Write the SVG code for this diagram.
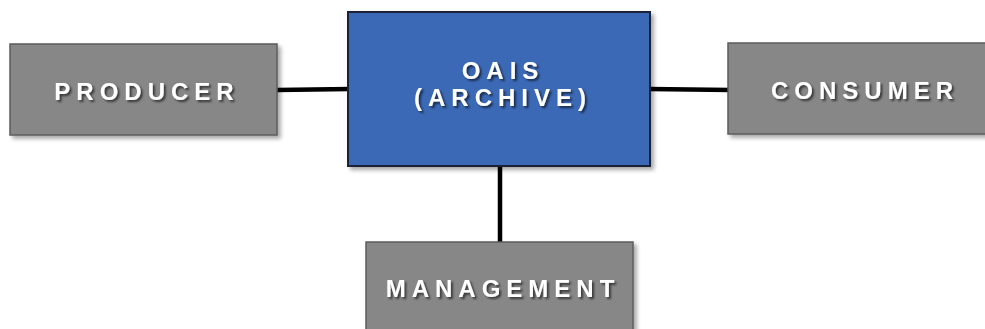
<svg xmlns="http://www.w3.org/2000/svg" width="985" height="329" viewBox="0 0 985 329">
  <defs>
    <filter id="boxShadow" x="-10%" y="-10%" width="125%" height="130%">
      <feGaussianBlur in="SourceAlpha" stdDeviation="2"/>
      <feOffset dx="3" dy="3" result="b"/>
      <feComponentTransfer><feFuncA type="linear" slope="0.35"/></feComponentTransfer>
      <feMerge><feMergeNode/><feMergeNode in="SourceGraphic"/></feMerge>
    </filter>
    <filter id="textShadow" x="-10%" y="-30%" width="120%" height="170%">
      <feGaussianBlur in="SourceAlpha" stdDeviation="1.2"/>
      <feOffset dx="1.5" dy="2" result="b"/>
      <feComponentTransfer><feFuncA type="linear" slope="0.6"/></feComponentTransfer>
      <feMerge><feMergeNode/><feMergeNode in="SourceGraphic"/></feMerge>
    </filter>
  </defs>
  <style>
    .grey { fill: #878787; stroke: #5c5c5c; stroke-width: 1.5; }
    .blue { fill: #3a69b6; stroke: #1c2436; stroke-width: 2; }
    .label { font-family: "Liberation Sans", Arial, sans-serif; font-weight: bold; font-size: 24px; letter-spacing: 6px; fill: #ffffff; text-anchor: middle; }
    .link { stroke: #000000; stroke-width: 4.5; stroke-linecap: round; fill: none; }
  </style>
  <rect width="985" height="329" fill="#ffffff"/>

  <g id="connectors">
    <line class="link" x1="277" y1="90" x2="350" y2="89"/>
    <line class="link" x1="649" y1="89" x2="731" y2="90"/>
    <line class="link" x1="500" y1="166" x2="500" y2="243"/>
  </g>

  <g id="producer">
    <rect class="grey" x="10" y="44" width="267" height="91" filter="url(#boxShadow)"/>
    <text class="label" x="147" y="100" filter="url(#textShadow)">PRODUCER</text>
  </g>

  <g id="oais">
    <rect class="blue" x="348" y="12" width="302" height="154" filter="url(#boxShadow)"/>
    <text class="label" x="503" y="79" filter="url(#textShadow)">OAIS</text>
    <text class="label" x="503" y="106" filter="url(#textShadow)">(ARCHIVE)</text>
  </g>

  <g id="consumer">
    <rect class="grey" x="728" y="43" width="268" height="91" filter="url(#boxShadow)"/>
    <text class="label" x="865" y="99" filter="url(#textShadow)">CONSUMER</text>
  </g>

  <g id="management">
    <rect class="grey" x="366" y="242" width="267" height="100" filter="url(#boxShadow)"/>
    <text class="label" x="503" y="297" filter="url(#textShadow)">MANAGEMENT</text>
  </g>
</svg>
